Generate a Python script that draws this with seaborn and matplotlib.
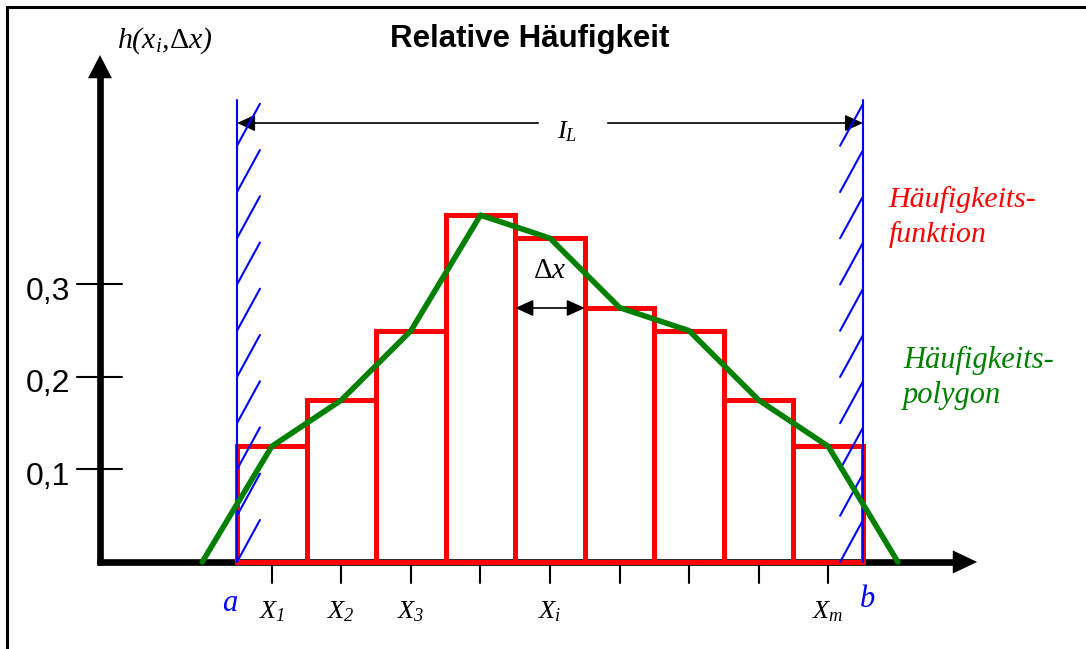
import matplotlib
matplotlib.use("Agg")
import matplotlib.pyplot as plt
from matplotlib.lines import Line2D
from matplotlib.patches import Polygon
import seaborn as sns

sns.set_theme(style="white")
plt.rcParams["font.family"] = ["Liberation Sans", "DejaVu Sans"]
plt.rcParams["mathtext.fontset"] = "custom"
plt.rcParams["mathtext.rm"] = "Liberation Serif:italic"
plt.rcParams["mathtext.it"] = "Liberation Serif:italic"
plt.rcParams["mathtext.sf"] = "Liberation Serif"

# Class midpoints (class width 1, interval [a, b] = [0, 9]) and relative frequencies
bar_centers = [0.5, 1.5, 2.5, 3.5, 4.5, 5.5, 6.5, 7.5, 8.5]
rel_freq = [0.125, 0.175, 0.25, 0.375, 0.35, 0.275, 0.25, 0.175, 0.125]

# Frequency polygon: midpoints closed off half a class outside [a, b]
poly_x = [-0.5] + bar_centers + [9.5]
poly_y = [0.0] + rel_freq + [0.0]

y_ticks = [0.1, 0.2, 0.3]
y_tick_labels = ["0,1", "0,2", "0,3"]
x_label_pos = [0.5, 1.5, 2.5, 4.5, 8.5]
x_labels = [r"$X_{\mathit{1}}$", r"$X_{\mathit{2}}$", r"$X_{\mathit{3}}$", r"$X_i$", r"$X_m$"]
interval = (0.0, 9.0)

RED = "#ff0000"
GREEN = "#008000"
BLUE = "#0000ff"
BLACK = "#000000"

fig = plt.figure(figsize=(10.86, 6.49), dpi=100)
ax = fig.add_axes([0, 0, 1, 1])

# Histogram outline (Häufigkeitsfunktion)
sns.barplot(x=bar_centers, y=rel_freq, native_scale=True, width=1.0, fill=False,
            color=RED, linewidth=3.6, errorbar=None, ax=ax, zorder=3)
for p in ax.patches:
    p.set_edgecolor(RED)
    p.set_facecolor("none")
    p.set_linewidth(3.6)
    p.set_zorder(3)

# Frequency polygon
sns.lineplot(x=poly_x, y=poly_y, sort=False, estimator=None, color=GREEN,
             linewidth=4.0, ax=ax, zorder=5)

ax.set_xlim(-3.407, 12.205)
ax.set_ylim(-0.0941, 0.6076)
ax.axis("off")

# Coordinate axes with filled arrow heads
y_ax_x = -1.97
ax.plot([y_ax_x, y_ax_x], [-0.0036, 0.524], color=BLACK, lw=4.8, solid_capstyle="butt", zorder=2)
ax.add_patch(Polygon([[y_ax_x - 0.1725, 0.523], [y_ax_x + 0.1725, 0.523], [y_ax_x, 0.5481]],
                     closed=True, color=BLACK, lw=0, zorder=2))
ax.plot([y_ax_x - 0.048, 10.30], [0, 0], color=BLACK, lw=4.8, solid_capstyle="butt", zorder=2)
ax.add_patch(Polygon([[10.29, 0.0125], [10.29, -0.0125], [10.64, 0.0]],
                     closed=True, color=BLACK, lw=0, zorder=2))

# y ticks and labels
for t, lab in zip(y_ticks, y_tick_labels):
    ax.plot([-2.30, -1.653], [t, t], color=BLACK, lw=1.5, zorder=2)
    ax.text(-2.40, t - 0.0165, lab, ha="right", va="baseline", fontsize=23, color=BLACK)

# x ticks at class midpoints
for c in bar_centers:
    ax.plot([c, c], [0, -0.0227], color=BLACK, lw=1.5, zorder=2)
for xp, lab in zip(x_label_pos, x_labels):
    ax.text(xp, -0.0605, lab, ha="center", va="baseline", fontsize=19, color=BLACK)

# Interval limits a and b with hatching
for xb in interval:
    ax.plot([xb, xb], [0, 0.5], color=BLUE, lw=1.5, zorder=4)
for k in range(10):
    y0 = 0.05 * k
    ax.plot([interval[0], interval[0] + 0.33], [y0, y0 + 0.0454], color=BLUE, lw=1.5, zorder=4)
    ax.plot([interval[1] - 0.33, interval[1]], [y0, y0 + 0.0454], color=BLUE, lw=1.5, zorder=4)

serif = ["Liberation Serif", "DejaVu Serif"]
ax.text(-0.1, -0.053, "a", ha="center", va="baseline", fontsize=22, color=BLUE,
        family=serif, style="italic")
ax.text(9.06, -0.0486, "b", ha="center", va="baseline", fontsize=22, color=BLUE,
        family=serif, style="italic")

# Interval length I_L
arrow_head = "-|>,head_length=11,head_width=5"
ax.annotate("", xy=(0.0, 0.4746), xytext=(4.33, 0.4746),
            arrowprops=dict(arrowstyle=arrow_head, mutation_scale=1, color=BLACK, lw=1.2,
                            shrinkA=0, shrinkB=0))
ax.annotate("", xy=(9.0, 0.4746), xytext=(5.33, 0.4746),
            arrowprops=dict(arrowstyle=arrow_head, mutation_scale=1, color=BLACK, lw=1.2,
                            shrinkA=0, shrinkB=0))
ax.text(4.74, 0.4584, r"$I_L$", ha="center", va="baseline", fontsize=19, color=BLACK)

# Class width Δx
ax.annotate("", xy=(4.0, 0.2746), xytext=(5.0, 0.2746),
            arrowprops=dict(arrowstyle="<|-|>,head_length=11,head_width=5", mutation_scale=1,
                            color=BLACK, lw=1.2, shrinkA=0, shrinkB=0), zorder=6)
ax.text(4.5, 0.307, r"$\mathsf{\Delta}x$", ha="center", va="baseline", fontsize=21, color=BLACK)

# Title and axis label
ax.text(4.21, 0.5568, "Relative Häufigkeit", ha="center", va="baseline", fontsize=22.5,
        fontweight="bold", color=BLACK)
ax.text(-1.725, 0.5557, r"$h(x_i{,}\mathsf{\Delta}x)$", ha="left", va="baseline",
        fontsize=21.5, color=BLACK)

# Side annotations
ax.text(9.37, 0.3838, "Häufigkeits-", ha="left", va="baseline", fontsize=21.5, color=RED,
        family=serif, style="italic")
ax.text(9.37, 0.3460, "funktion", ha="left", va="baseline", fontsize=21.5, color=RED,
        family=serif, style="italic")
ax.text(9.575, 0.2097, "Häufigkeits-", ha="left", va="baseline", fontsize=22, color=GREEN,
        family=serif, style="italic")
ax.text(9.575, 0.1719, "polygon", ha="left", va="baseline", fontsize=22, color=GREEN,
        family=serif, style="italic")

# Outer frame (top and left edges)
fig.add_artist(Line2D([7 / 1086, 1.0], [1 - 7 / 649, 1 - 7 / 649], transform=fig.transFigure,
                      color=BLACK, lw=2.2))
fig.add_artist(Line2D([7 / 1086, 7 / 1086], [0.0, 1 - 7 / 649], transform=fig.transFigure,
                      color=BLACK, lw=2.2))

fig.savefig("out.png", dpi=100, facecolor="white")
